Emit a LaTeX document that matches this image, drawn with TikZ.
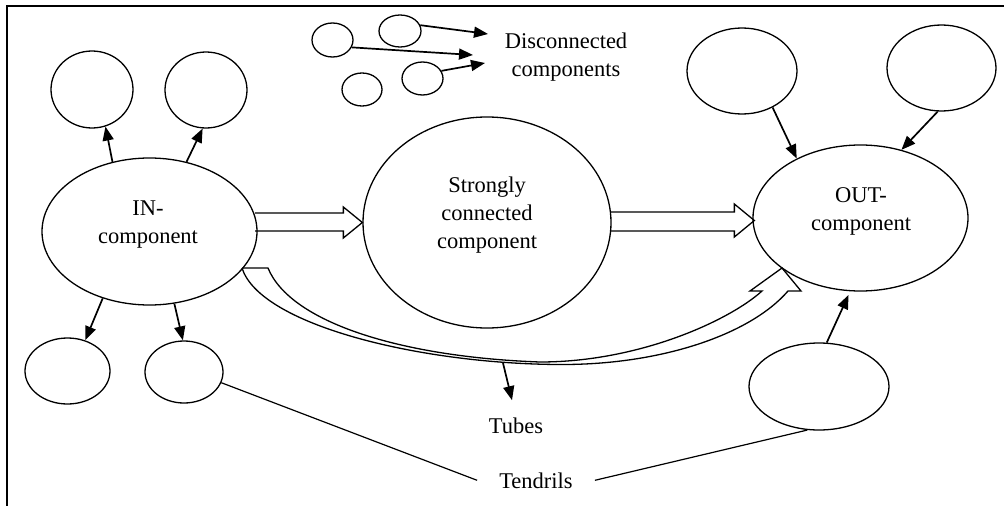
\documentclass[tikz,border=0pt]{standalone}
\usepackage{fontspec}
\setmainfont{Liberation Serif}
\usetikzlibrary{shapes.geometric,arrows.meta,calc}
\tikzset{
  comp/.style={draw, ellipse, line width=1.3pt, inner sep=0pt},
  arr/.style={line width=1.7pt, -{Triangle[length=14pt,width=11pt]}},
  hollow/.style={line width=1.3pt, line join=miter},
  lbl/.style={align=center, inner sep=0pt, font=\fontsize{22.5}{28}\selectfont},
  tline/.style={line width=1.2pt}
}
\begin{document}
\begin{tikzpicture}[x=1pt,y=-1pt]
\useasboundingbox (0,0) rectangle (1004,506);
% frame
\draw[line width=2pt] (7,506) -- (7,6) -- (1004,6);
% components
\node[comp, minimum width=82pt, minimum height=77pt] (tl1) at (92,89.5) {};
\node[comp, minimum width=82pt, minimum height=76pt] (tl2) at (206,90) {};
\node[comp, minimum width=215pt, minimum height=147pt] (in) at (149.5,231.5) {};
\node[comp, minimum width=85pt, minimum height=66pt] (bl1) at (67.5,371) {};
\node[comp, minimum width=78pt, minimum height=62pt] (bl2) at (184,372) {};
\node[comp, minimum width=41pt, minimum height=34pt] (d1) at (332.5,40) {};
\node[comp, minimum width=42pt, minimum height=32pt] (d2) at (400,31) {};
\node[comp, minimum width=40pt, minimum height=33pt] (d3) at (362,89.5) {};
\node[comp, minimum width=41pt, minimum height=33pt] (d4) at (422.5,78.5) {};
\node[comp, minimum width=248pt, minimum height=211pt] (scc) at (487,222.5) {};
\node[comp, minimum width=215pt, minimum height=146pt] (out) at (860.5,218) {};
\node[comp, minimum width=110pt, minimum height=86pt] (tr1) at (742,71) {};
\node[comp, minimum width=109pt, minimum height=86pt] (tr2) at (941.5,68) {};
\node[comp, minimum width=140pt, minimum height=87pt] (br) at (819,386.5) {};
% texts
\node[lbl] (inT) at (148,224.5) {IN-\\component};
\node[lbl] (sccT) at (487,215) {Strongly\\connected\\component};
\node[lbl] (outT) at (861,211) {OUT-\\component};
\node[lbl] (discT) at (566,57.5) {Disconnected\\components};
\node[lbl] (tubes) at (516,425.3) {Tubes};
\node[lbl, inner xsep=22pt] (tend) at (536,480.3) {Tendrils};
% arrows from IN
\draw[arr] (in.118.7) -- (tl1.290.5);
\draw[arr] (in.62.3) -- (tl2.265.6);
\draw[arr] (in.235.8) -- (bl1.60);
\draw[arr] (in.289.1) -- (bl2.92);
% arrows into OUT
\draw[arr] (tr1.310.7) -- (out.137.1);
\draw[arr] (tr2.265.2) -- (out.59.8);
\draw[arr, shorten >=4pt] (br.80) -- (out.262.3);
% disconnected components
\coordinate (da) at (488,34);
\coordinate (db) at (473,55);
\coordinate (dc) at (485,63);
\draw[arr] (d2.16) -- (da);
\draw[arr] (d1.339.6) -- (db);
\draw[arr] (d4.22.5) -- (dc);
% tendrils
\draw[tline] (bl2.344.3) -- (tend.west);
\draw[tline] (tend.east) -- (br.255.8);
% hollow straight arrows
\draw[hollow] (255,213) -- ($(scc.west)+(-19,-9.5)$) -- ($(scc.west)+(-19,-15.5)$) -- (scc.west)
  -- ($(scc.west)+(-19,15.5)$) -- ($(scc.west)+(-19,8.5)$) -- (255,231);
\draw[hollow] (611,212) -- ($(out.west)+(-18,-6)$) -- ($(out.west)+(-18,-14)$) -- ($(out.west)+(2,2.5)$)
  -- ($(out.west)+(-18,19)$) -- ($(out.west)+(-18,13)$) -- (611,231);
% tubes hollow curved arrow
\draw[hollow] (242,268) -- (268,268)
  .. controls (290,322) and (400,357) .. (540,362)
  .. controls (640,362) and (730,320) .. (762,291)
  -- (750,291) -- (782,268) -- (801,291) -- (788,291)
  .. controls (750,335) and (660,365) .. (560,364.5)
  .. controls (420,364) and (260,325) .. (242,268);
\coordinate (tubeA) at (503,363);
\draw[arr] (tubeA) -- ($(tubes.north)+(-4,-17)$);
\end{tikzpicture}
\end{document}
